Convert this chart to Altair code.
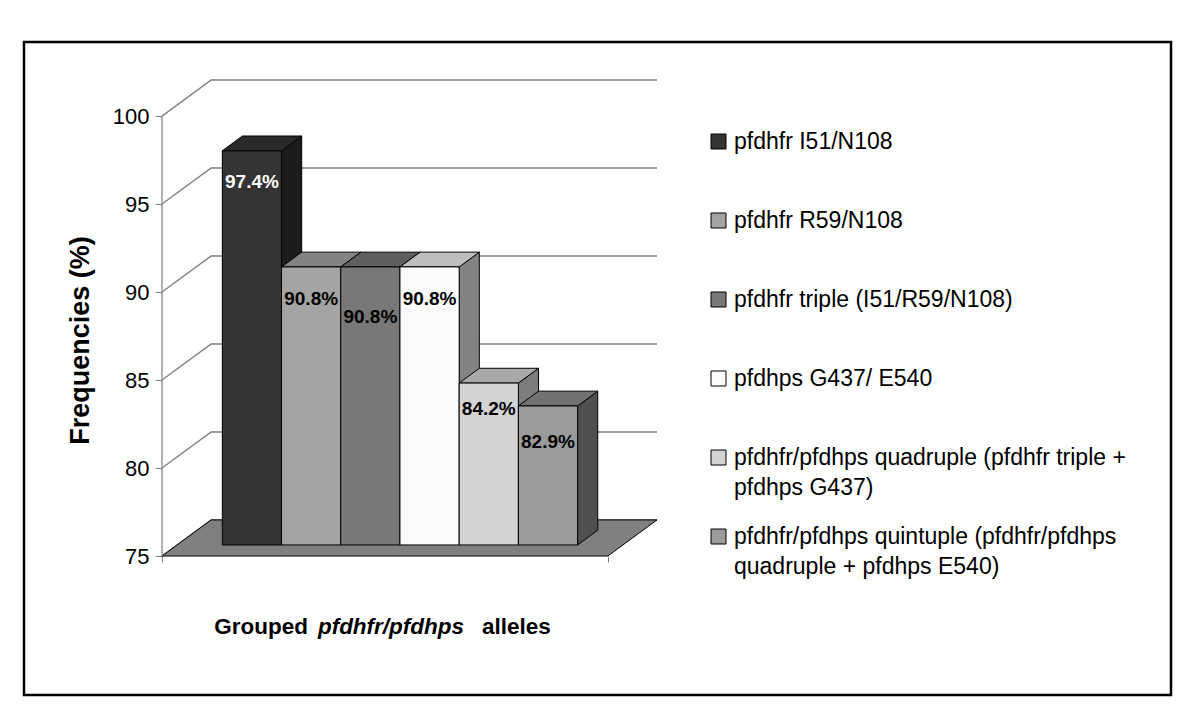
import textwrap
import altair as alt
import pandas as pd

# ---------------- data ----------------
categories = [
    "pfdhfr I51/N108",
    "pfdhfr R59/N108",
    "pfdhfr triple (I51/R59/N108)",
    "pfdhps G437/ E540",
    "pfdhfr/pfdhps quadruple (pfdhfr triple + pfdhps G437)",
    "pfdhfr/pfdhps quintuple (pfdhfr/pfdhps quadruple + pfdhps E540)",
]
frequencies = [97.4, 90.8, 90.8, 90.8, 84.2, 82.9]
y_ticks = [75, 80, 85, 90, 95, 100]

# ---------------- style ----------------
front_colors = ["#343434", "#a4a4a4", "#787878", "#fbfbfb", "#d3d3d3", "#9b9b9b"]
top_colors = ["#2a2a2a", "#838383", "#5e5e5e", "#bebebe", "#a9a9a9", "#727272"]
side_colors = ["#1c1c1c", "#6a6a6a", "#4a4a4a", "#838383", "#7c7c7c", "#505050"]
label_colors = ["white", "black", "black", "black", "black", "black"]
label_dy = [31, 32, 50, 32, 26, 36]   # pixel drop of each value label below its bar top
FONT = "Liberation Sans"
GRID = "#7f7f7f"

# pseudo-3D geometry (in data units: bar widths on x, percentage points on y)
Y_MIN, Y_MAX = 75, 100
FLOOR_W = 7.53          # width of the floor's front edge, in bar widths
DEPTH_X = 0.83          # horizontal shift of the back wall, in bar widths
DEPTH_Y = 2.05          # vertical shift of the back wall, in % points
BAR_FRONT = 0.306       # depth position of the bars' front faces (0..1)
BAR_BACK = 0.716        # depth position of the bars' back faces (0..1)
GAP = (FLOOR_W - len(categories)) / 2
PX_PER_X = 59.2
PX_PER_Y = 17.6
W = round((FLOOR_W + DEPTH_X) * PX_PER_X)
H = round((Y_MAX + DEPTH_Y - Y_MIN) * PX_PER_Y)

x_scale = alt.Scale(domain=[0, FLOOR_W + DEPTH_X], nice=False, zero=False)
y_scale = alt.Scale(domain=[Y_MIN, Y_MAX + DEPTH_Y], nice=False, zero=False)

x_axis = alt.Axis(values=[0, FLOOR_W], labels=False, domain=False, grid=False,
                  ticks=True, tickSize=6, tickColor=GRID, title=None)
y_axis = alt.Axis(values=y_ticks, domain=False, grid=False, ticks=True, tickSize=7,
                  tickColor=GRID, labelFont=FONT, labelFontSize=22, labelColor="black",
                  labelPadding=6, title="Frequencies (%)", titleFont=FONT,
                  titleFontSize=27, titleFontWeight="bold", titleColor="black",
                  titleX=-82, titleY=260, titleAngle=270, titleAlign="center",
                  titleBaseline="middle")


def X(field):
    return alt.X(field, scale=x_scale, axis=x_axis)


def Y(field):
    return alt.Y(field, scale=y_scale, axis=y_axis, stack=False)


# back wall + side wall grid lines
wall_rows = []
for t in y_ticks:
    wall_rows += [
        dict(t=t, k=0, x=0, y=t),
        dict(t=t, k=1, x=DEPTH_X, y=t + DEPTH_Y),
        dict(t=t, k=2, x=FLOOR_W + DEPTH_X, y=t + DEPTH_Y),
    ]
wall = alt.Chart(pd.DataFrame(wall_rows)).mark_line(color=GRID, strokeWidth=1.4).encode(
    x=X("x:Q"), y=Y("y:Q"), detail="t:N", order="k:Q")

# floor (area points are sorted by x)
floor_rows = [
    dict(x=0, y=Y_MIN, y2=Y_MIN),
    dict(x=DEPTH_X, y=Y_MIN + DEPTH_Y, y2=Y_MIN),
    dict(x=FLOOR_W, y=Y_MIN + DEPTH_Y, y2=Y_MIN),
    dict(x=FLOOR_W + DEPTH_X, y=Y_MIN + DEPTH_Y, y2=Y_MIN + DEPTH_Y),
]
floor = alt.Chart(pd.DataFrame(floor_rows)).mark_area(
    fill="#808080", stroke="black", strokeWidth=1, interpolate="linear").encode(
    x=X("x:Q"), y=Y("y:Q"), y2="y2:Q")

# front axis line
axis_line = alt.Chart(pd.DataFrame([dict(x=0, y=Y_MIN, y2=Y_MAX)])).mark_rule(
    color=GRID, strokeWidth=1.2).encode(x=X("x:Q"), y=Y("y:Q"), y2="y2:Q")

# bar faces
ddx = (BAR_BACK - BAR_FRONT) * DEPTH_X
ddy = (BAR_BACK - BAR_FRONT) * DEPTH_Y
front_rows, side_rows, top_rows, label_rows = [], [], [], []
for i, (cat, v) in enumerate(zip(categories, frequencies)):
    fx0 = GAP + i + BAR_FRONT * DEPTH_X
    fx1 = fx0 + 1
    fy0 = Y_MIN + BAR_FRONT * DEPTH_Y
    fy1 = v + BAR_FRONT * DEPTH_Y
    front_rows.append(dict(category=cat, x=fx0, x2=fx1, y=fy0, y2=fy1))
    side_rows += [
        dict(face=i, x=fx1, y=fy1, y2=fy0, fill=side_colors[i]),
        dict(face=i, x=fx1 + ddx, y=fy1 + ddy, y2=fy0 + ddy, fill=side_colors[i]),
    ]
    top_rows += [
        dict(face=i, x=fx0, y=fy1, y2=fy1, fill=top_colors[i]),
        dict(face=i, x=fx0 + ddx, y=fy1 + ddy, y2=fy1, fill=top_colors[i]),
        dict(face=i, x=fx1, y=fy1 + ddy, y2=fy1, fill=top_colors[i]),
        dict(face=i, x=fx1 + ddx, y=fy1 + ddy, y2=fy1 + ddy, fill=top_colors[i]),
    ]
    label_rows.append(dict(x=(fx0 + fx1) / 2, y=fy1, text=f"{v:.1f}%",
                           col=label_colors[i], drop=label_dy[i]))


def faces(rows):
    return alt.Chart(pd.DataFrame(rows)).mark_area(
        stroke="black", strokeWidth=1, interpolate="linear", strokeJoin="miter").encode(
        x=X("x:Q"), y=Y("y:Q"), y2="y2:Q",
        fill=alt.Fill("fill:N", scale=None), detail="face:N")


sides = faces(side_rows)
tops = faces(top_rows)

# legend labels wrapped like the original
expr = "datum.label"
for cat in reversed(categories):
    lines = textwrap.wrap(cat, 40)
    if len(lines) > 1:
        arr = "[" + ",".join("'" + s + "'" for s in lines) + "]"
        expr = f"datum.label === '{cat}' ? {arr} : ({expr})"

fronts = alt.Chart(pd.DataFrame(front_rows)).mark_rect(stroke="black", strokeWidth=1).encode(
    x=X("x:Q"), x2="x2:Q", y=Y("y:Q"), y2="y2:Q",
    color=alt.Color(
        "category:N", sort=categories,
        scale=alt.Scale(domain=categories, range=front_colors),
        legend=alt.Legend(
            title=None, orient="none", legendX=545, legendY=50, padding=0,
            symbolType="square", symbolSize=225, symbolStrokeColor="black",
            symbolStrokeWidth=1, labelFont=FONT, labelFontSize=23, labelColor="black",
            labelLimit=600, labelOffset=4, labelBaseline="middle", labelExpr=expr,
            rowPadding=25, gridAlign="all",
        ),
    ),
)

# value labels: one text layer per bar so each can keep its own drop
label_layers = []
for row in label_rows:
    label_layers.append(
        alt.Chart(pd.DataFrame([row])).mark_text(
            font=FONT, fontSize=19, fontWeight="bold", baseline="middle",
            dy=row["drop"], color=row["col"]).encode(
            x=X("x:Q"), y=Y("y:Q"), text="text:N"))

# x title with italic gene names
TS = 22.5
t1 = alt.Chart(pd.DataFrame([dict(s="Grouped")])).mark_text(
    font=FONT, fontSize=TS, fontWeight="bold", align="right", baseline="alphabetic").encode(
    x=alt.value(146), y=alt.value(554), text="s:N")
t2 = alt.Chart(pd.DataFrame([dict(s="pfdhfr/pfdhps")])).mark_text(
    font=FONT, fontSize=TS, fontWeight="bold", fontStyle="italic", align="center",
    baseline="alphabetic").encode(x=alt.value(229), y=alt.value(554), text="s:N")
t3 = alt.Chart(pd.DataFrame([dict(s="alleles")])).mark_text(
    font=FONT, fontSize=TS, fontWeight="bold", align="left", baseline="alphabetic").encode(
    x=alt.value(320), y=alt.value(554), text="s:N")

# outer frame
frame = alt.Chart(pd.DataFrame([dict(a=1)])).mark_rect(
    fillOpacity=0, stroke="black", strokeWidth=2.5).encode(
    x=alt.value(-138), x2=alt.value(1009), y=alt.value(-38), y2=alt.value(615))

chart = alt.layer(
    wall, floor, axis_line, sides, tops, fronts, *label_layers, t1, t2, t3, frame
).properties(
    width=W, height=H, autosize="none",
    padding={"left": 154, "top": 72, "right": 530, "bottom": 150},
    background="white",
).configure(
    font=FONT, style={"guide-label": {"lineHeight": 30}}
).configure_view(strokeWidth=0)

chart.save("out.html", embed_options={"renderer": "svg", "actions": False})
